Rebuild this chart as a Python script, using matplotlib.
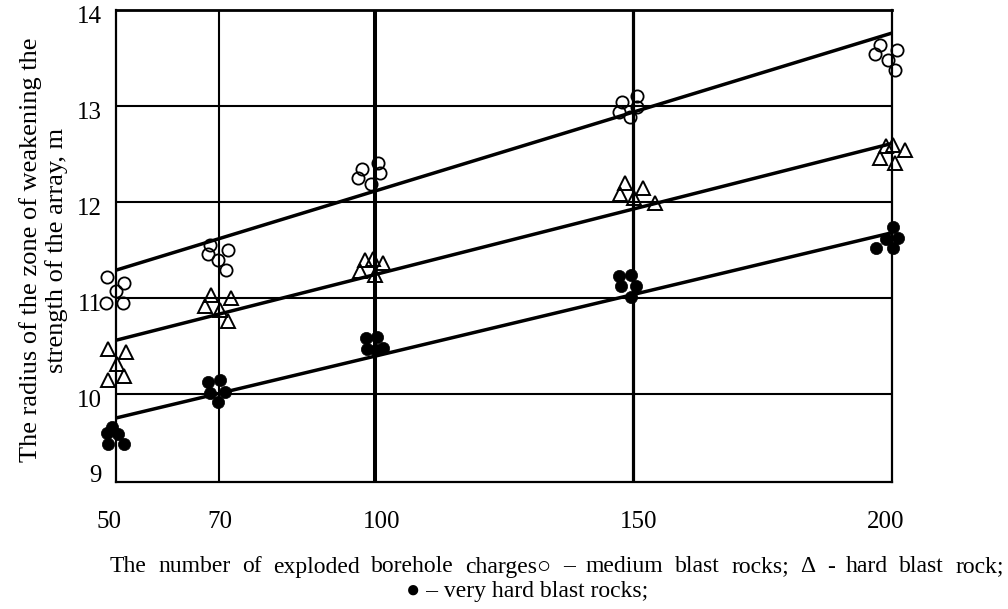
import matplotlib
matplotlib.use("Agg")
import matplotlib.pyplot as plt
import matplotlib.transforms as mtransforms

# ---------------- data ----------------
x_ticks = [50, 70, 100, 150, 200]
x_tick_labels = ["50", "70", "100", "150", "200"]
y_ticks = [10, 11, 12, 13, 14]
y_tick_labels = ["10", "11", "12", "13", "14"]
y_bottom_label = "9"

medium_x = [48.2, 51.6, 50.0, 48.0, 51.4, 68.1, 71.6, 67.7, 69.7, 71.2,
            97.6, 100.6, 96.8, 101.0, 99.2, 147.8, 150.7, 147.2, 150.8, 149.4,
            197.6, 201.0, 196.8, 199.3, 200.6]
medium_y = [11.22, 11.16, 11.07, 10.95, 10.95, 11.55, 11.50, 11.46, 11.40, 11.29,
            12.34, 12.41, 12.25, 12.30, 12.19, 13.04, 13.10, 12.94, 12.99, 12.89,
            13.64, 13.58, 13.54, 13.48, 13.37]

hard_x = [48.4, 52.0, 50.1, 48.5, 51.6, 68.3, 72.2, 67.3, 70.1, 71.6,
          98.1, 99.7, 101.7, 97.2, 100.0, 148.3, 151.9, 147.4, 150.2, 154.1,
          198.8, 200.1, 202.5, 197.6, 200.6]
hard_y = [10.47, 10.44, 10.31, 10.15, 10.19, 11.03, 11.00, 10.92, 10.875, 10.76,
          11.40, 11.41, 11.36, 11.28, 11.24, 12.20, 12.15, 12.08, 12.04, 11.99,
          12.58, 12.59, 12.54, 12.46, 12.41]

very_hard_x = [49.2, 48.2, 50.4, 48.4, 51.6, 67.8, 70.1, 68.1, 71.0, 69.7,
               98.4, 100.4, 98.5, 101.7, 100.2, 147.3, 149.5, 147.6, 150.5, 149.5,
               200.1, 201.2, 198.8, 197.0, 200.1]
very_hard_y = [9.66, 9.59, 9.58, 9.48, 9.48, 10.13, 10.15, 10.01, 10.02, 9.92,
               10.58, 10.59, 10.47, 10.48, 10.46, 11.23, 11.24, 11.12, 11.12, 11.01,
               11.74, 11.62, 11.61, 11.52, 11.52]

trend_x = [50, 200]
medium_trend = [11.29, 13.76]
hard_trend = [10.56, 12.61]
very_hard_trend = [9.75, 11.68]

y_label_lines = ["The radius of the zone of weakening the", "strength of the array, m"]
x_label_lines = ["The number of exploded borehole charges\u25cb \u2013 medium blast rocks; \u0394 - hard blast rock;",
                 "\u25cf \u2013 very hard blast rocks;"]

# ---------------- style ----------------
plt.rcParams['font.family'] = ['Liberation Serif', 'DejaVu Serif']
W, H = 1008, 609
fig = plt.figure(figsize=(W / 100, H / 100), dpi=100)
ax = fig.add_axes([116 / W, 1 - 482 / H, (892 - 116) / W, (482 - 10) / H])

ymin = 14 - 472 / 96
ax.set_xlim(50, 200)
ax.set_ylim(ymin, 14)

# grid lines
for yv in y_ticks[:-1]:
    ax.axhline(yv, color='black', lw=1.5, zorder=1)
ax.axvline(70, color='black', lw=1.5, zorder=1)
ax.axvline(100, color='black', lw=2.9, zorder=1)
ax.axvline(150, color='black', lw=2.3, zorder=1)

for sp in ax.spines.values():
    sp.set_linewidth(1.6)
    sp.set_color('black')
ax.spines['top'].set_linewidth(2.0)

# trend lines
for tr in (medium_trend, hard_trend, very_hard_trend):
    ax.plot(trend_x, tr, color='black', lw=2.5, solid_capstyle='butt', zorder=2)

# points
ax.plot(medium_x, medium_y, linestyle='none', marker='o', ms=8.8, mfc='none',
        mec='black', mew=1.3, clip_on=False, zorder=3)
ax.plot(hard_x, hard_y, linestyle='none', marker='^', ms=9.4, mfc='none',
        mec='black', mew=1.4, clip_on=False, zorder=3)
ax.plot(very_hard_x, very_hard_y, linestyle='none', marker='o', ms=8.8, mfc='black',
        mec='black', mew=0.5, clip_on=False, zorder=3)

# ticks
ax.set_xticks(x_ticks)
ax.set_xticklabels(x_tick_labels, fontsize=18)
ax.tick_params(axis='x', length=0, pad=21)
x_label_shift_px = [-7, 0, 7, 5, -6]
for lab, dx in zip(ax.get_xticklabels(), x_label_shift_px):
    lab.set_transform(lab.get_transform() +
                      mtransforms.ScaledTranslation(dx / 100, 0, fig.dpi_scale_trans))

yt_positions = [ymin + 0.14] + y_ticks
ax.set_yticks(yt_positions)
ax.set_yticklabels([y_bottom_label] + y_tick_labels, fontsize=18)
ax.tick_params(axis='y', length=0, pad=10)
off = mtransforms.ScaledTranslation(0, -5 / 100, fig.dpi_scale_trans)
for lab in ax.get_yticklabels():
    lab.set_transform(lab.get_transform() + off)

# y label (two lines)
fs_y = 19
fig.text(31 / W, 1 - 250 / H, y_label_lines[0], rotation=90, ha='center', va='center', fontsize=fs_y)
fig.text(57 / W, 1 - 250 / H, y_label_lines[1], rotation=90, ha='center', va='center', fontsize=fs_y)

# x label: first line justified between left_px and right_px, second line centred
fs_x = 17
renderer = fig.canvas.get_renderer()
words = x_label_lines[0].split(' ')
objs = [fig.text(0, 1 - 567 / H, w, ha='left', va='center', fontsize=fs_x) for w in words]
widths = [o.get_window_extent(renderer=renderer).width for o in objs]
left_px, right_px = 110, 1004
gap = (right_px - left_px - sum(widths)) / (len(words) - 1)
xpos = left_px
for o, w in zip(objs, widths):
    o.set_x(xpos / W)
    xpos += w + gap
fig.text(527 / W, 1 - 592 / H, x_label_lines[1], ha='center', va='center', fontsize=fs_x)

fig.savefig("out.png", dpi=100)
